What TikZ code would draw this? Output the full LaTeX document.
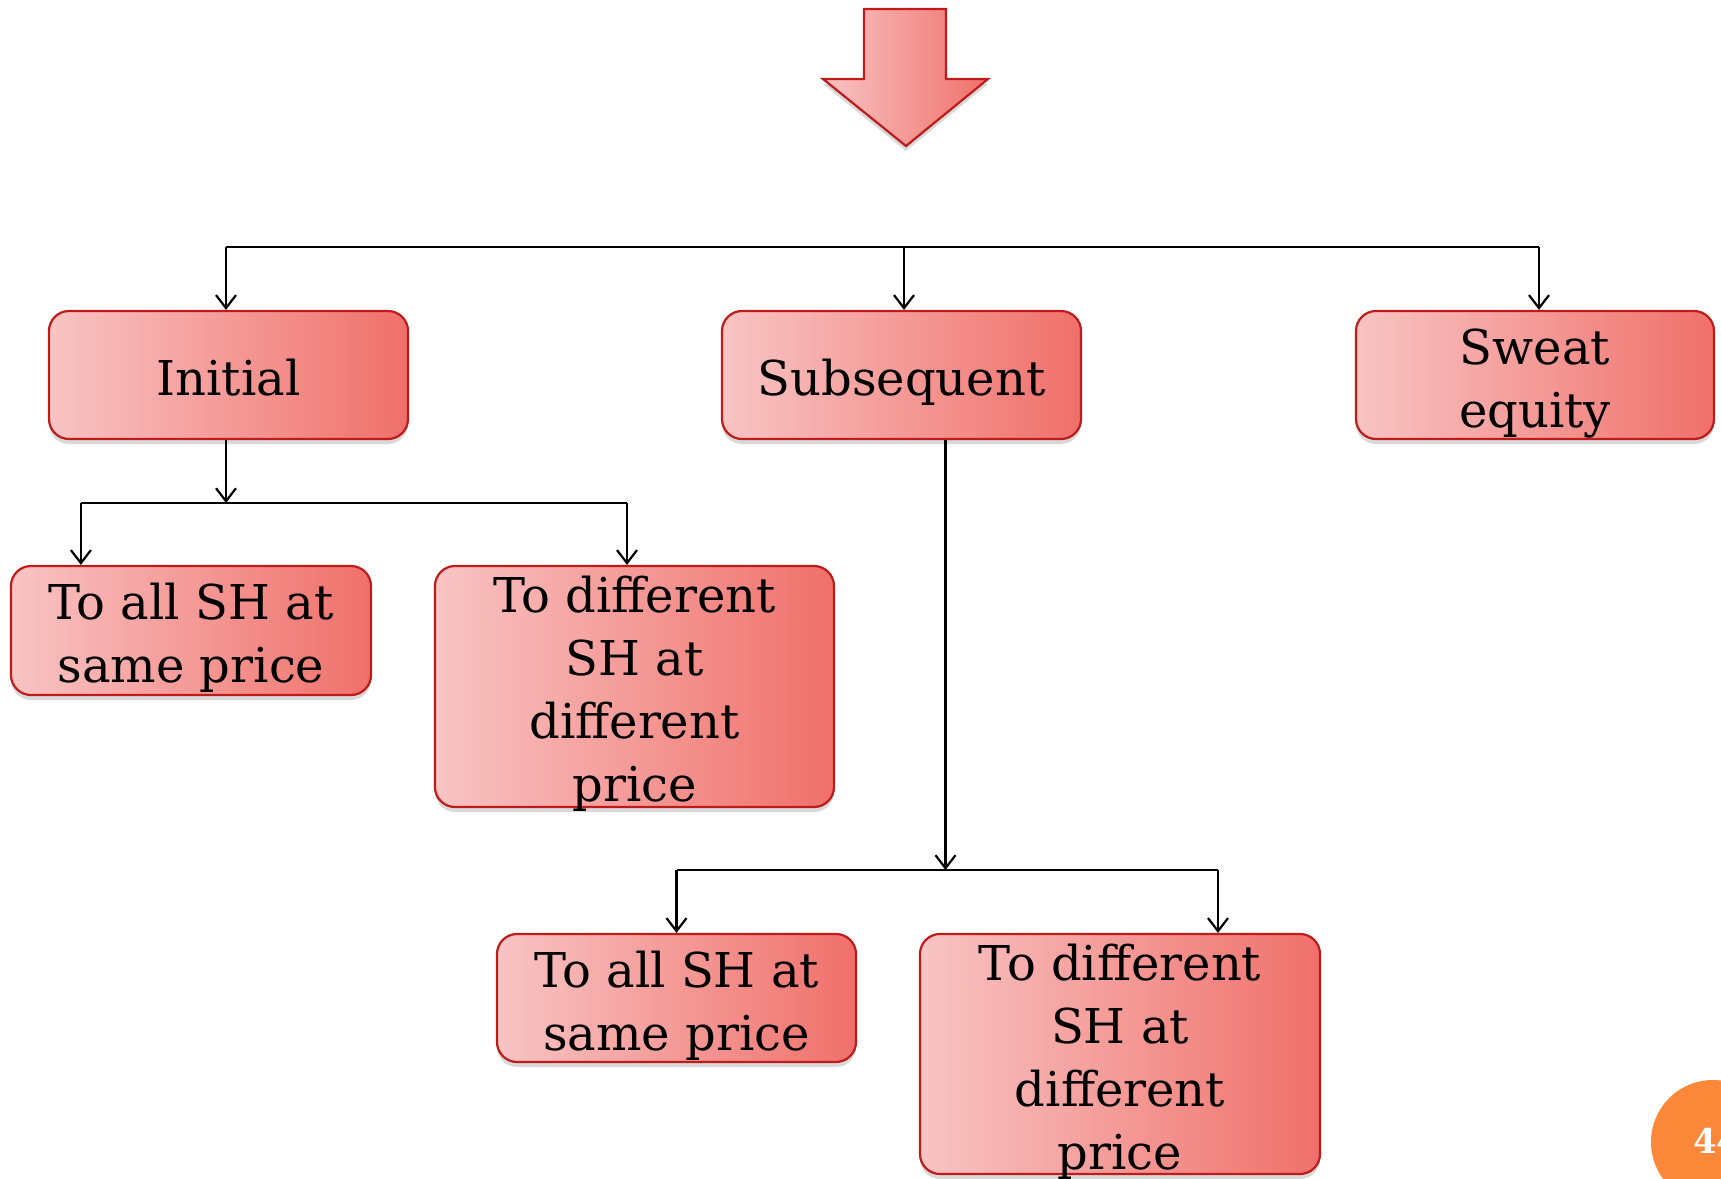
\documentclass[tikz,border=0pt]{standalone}
\usepackage{fontspec}
\setmainfont{DejaVu Serif}
\usetikzlibrary{shadows,arrows.meta}
\definecolor{boxlight}{RGB}{248,196,196}
\definecolor{boxdark}{RGB}{240,112,106}
\definecolor{boxedge}{RGB}{190,28,26}
\definecolor{pagebadge}{RGB}{250,136,56}
\begin{document}
\begin{tikzpicture}[x=0.5pt,y=-0.5pt,
  box/.style={draw=boxedge, line width=1.1pt, rounded corners=10pt,
    left color=boxlight, right color=boxdark,
    drop shadow={opacity=0.3, shadow xshift=0pt, shadow yshift=-2.5pt},
    inner sep=0pt},
  txt/.style={align=center, inner sep=0pt, yshift=-4pt,
    font=\fontsize{24}{31.5}\selectfont},
  conn/.style={line width=1.1pt, black},
  arr/.style={conn, -{Straight Barb[length=6.5pt, width=10pt]}}]
\useasboundingbox (0,0) rectangle (1721,1179);

% big down arrow at the top
\path[draw=boxedge, line width=1.1pt, left color=boxlight, right color=boxdark,
  drop shadow={opacity=0.3, shadow xshift=0pt, shadow yshift=-2.5pt}]
  (864,9) -- (946,9) -- (946,79) -- (988,79) -- (906,146) -- (823,79) -- (864,79) -- cycle;

% first level
\node[box, minimum width=179.5pt, minimum height=64pt] (init) at (228.5,375) {};
\node[box, minimum width=179.5pt, minimum height=64pt] (subs) at (901.5,375) {};
\node[box, minimum width=179pt, minimum height=64pt] (sweat) at (1535,375) {};

% second level under Initial
\node[box, minimum width=180pt, minimum height=64.5pt] (ia) at (191,630.5) {};
\node[box, minimum width=199.5pt, minimum height=120.5pt] (ib) at (634.5,686.5) {};

% second level under Subsequent
\node[box, minimum width=179.5pt, minimum height=64pt] (sa) at (676.5,998) {};
\node[box, minimum width=200pt, minimum height=120pt] (sb) at (1120,1054) {};

% box texts (struts keep every line the same height)
\node[txt] (init-t) at (init.center) {Initial\strut};
\node[txt] (subs-t) at (subs.center) {Subsequent\strut};
\node[txt] (sweat-t) at (sweat.center) {Sweat\strut\\equity\strut};
\node[txt] (ia-t) at (ia.center) {To all SH at\strut\\same price\strut};
\node[txt] (ib-t) at (ib.center) {To different\strut\\SH at\strut\\different\strut\\price\strut};
\node[txt] (sa-t) at (sa.center) {To all SH at\strut\\same price\strut};
\node[txt] (sb-t) at (sb.center) {To different\strut\\SH at\strut\\different\strut\\price\strut};

% junction points
\coordinate (topbar) at (0,247);
\coordinate (initbar) at (0,503);
\coordinate (subsbar) at (0,870);
\coordinate (initin) at ([xshift=-1.25pt]init.north);
\coordinate (subsin) at ([xshift=1.25pt]subs.north);
\coordinate (sweatin) at ([xshift=2pt]sweat.north);
\coordinate (initout) at ([xshift=-1.25pt]init.south);
\coordinate (iain) at ([xshift=35.5pt]ia.north west);
\coordinate (ibin) at ([xshift=-3.75pt]ib.north);
\coordinate (subsout) at ([xshift=22pt]subs.south);
\coordinate (sbin) at ([xshift=49pt]sb.north);

% connectors from the top bar
\draw[conn] (initin |- topbar) -- (sweatin |- topbar);
\draw[arr] (initin |- topbar) -- (initin);
\draw[arr] (subsin |- topbar) -- (subsin);
\draw[arr] (sweatin |- topbar) -- (sweatin);

% connectors under Initial
\draw[arr] (initout) -- (initout |- initbar);
\draw[conn] (iain |- initbar) -- (ibin |- initbar);
\draw[arr] (iain |- initbar) -- (iain);
\draw[arr] (ibin |- initbar) -- (ibin);

% connectors under Subsequent
\draw[arr] (subsout) -- (subsout |- subsbar);
\draw[conn] (sa.north |- subsbar) -- (sbin |- subsbar);
\draw[arr] (sa.north |- subsbar) -- (sa.north);
\draw[arr] (sbin |- subsbar) -- (sbin);

% page number badge
\fill[pagebadge] (1713,1142) circle[radius=31pt];
\node[text=white, font=\fontsize{17}{20}\selectfont\bfseries, anchor=west] (pg) at (1686,1141) {44};
\end{tikzpicture}
\end{document}
